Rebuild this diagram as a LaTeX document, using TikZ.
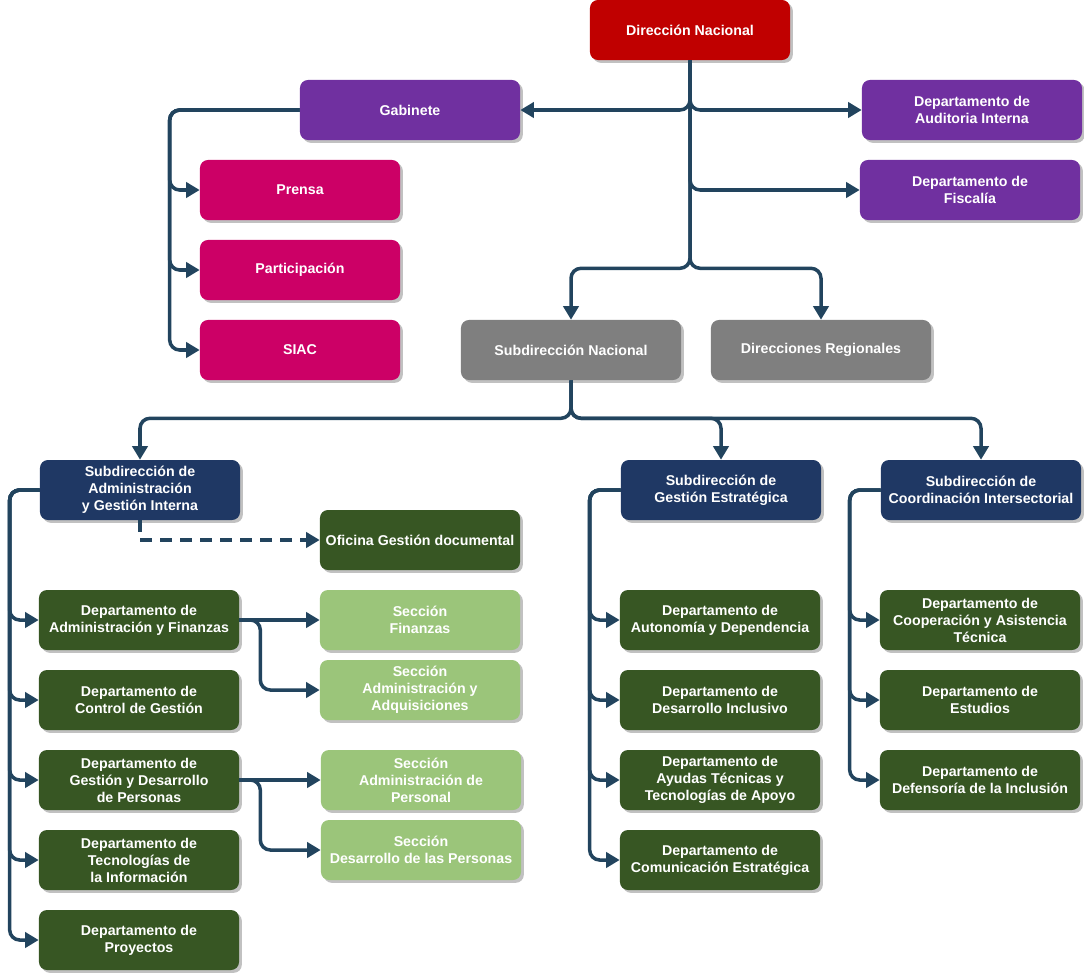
\documentclass[tikz,border=0pt]{standalone}
\usepackage{fontspec}
\setmainfont{Liberation Sans}
\usetikzlibrary{arrows.meta,shadows}
\definecolor{dnred}{HTML}{C00000}
\definecolor{purp}{HTML}{7030A0}
\definecolor{magent}{HTML}{CC0066}
\definecolor{greybox}{HTML}{7F7F7F}
\definecolor{navy}{HTML}{1F3864}
\definecolor{darkgreen}{HTML}{375623}
\definecolor{lightgreen}{HTML}{9BC57A}
\definecolor{linecol}{HTML}{22445E}
\tikzset{
  box/.style={rectangle, rounded corners=0.2cm, minimum width=5cm, minimum height=1.5cm,
    align=center, text=white, font=\fontsize{10.1}{12.1}\selectfont\bfseries,
    drop shadow={shadow xshift=0.07cm, shadow yshift=-0.07cm, fill=black!35, opacity=0.7}},
  widebox/.style={box, minimum width=5.5cm},
  con/.style={draw=linecol, line width=2.5pt, rounded corners=0.25cm,
    -{Triangle[length=0.34cm,width=0.38cm]}},
  dashcon/.style={con, sharp corners, dash pattern=on 0.3cm off 0.2cm},
}
\begin{document}
\begin{tikzpicture}[x=0.025cm,y=-0.025cm]
\useasboundingbox (0,0) rectangle (1084,974);
\node[widebox, fill=dnred, minimum width=5cm] (dn) at (690,30) {Dirección Nacional};
\node[widebox, fill=purp] (gab) at (410,110) {Gabinete};
\node[widebox, fill=purp] (aud) at (972,110) {Departamento de\\Auditoria Interna};
\node[widebox, fill=purp] (fis) at (970,190) {Departamento de\\Fiscalía};
\node[box, fill=magent] (pre) at (300,190) {Prensa};
\node[box, fill=magent] (par) at (300,270) {Participación};
\node[box, fill=magent] (siac) at (300,350) {SIAC};
\node[widebox, fill=greybox] (sn) at (571,350) {Subdirección Nacional};
\node[widebox, fill=greybox] (dr) at (821,350) {Direcciones Regionales};
\node[box, fill=navy] (sa) at (140,490) {Subdirección de\\Administración\\y Gestión Interna};
\node[box, fill=navy] (sge) at (721,490) {Subdirección de\\Gestión Estratégica};
\node[box, fill=navy] (sci) at (981,490) {Subdirección de\\Coordinación Intersectorial};
\node[box, fill=darkgreen] (ogd) at (420,540) {Oficina Gestión documental};
\node[box, fill=darkgreen] (daf) at (139,620) {Departamento de\\Administración y Finanzas};
\node[box, fill=lightgreen] (sfi) at (420,620) {Sección\\Finanzas};
\node[box, fill=lightgreen] (saa) at (420,690) {Sección\\Administración y\\Adquisiciones};
\node[box, fill=darkgreen] (dcg) at (139,700) {Departamento de\\Control de Gestión};
\node[box, fill=darkgreen] (gdp) at (139,780) {Departamento de\\Gestión y Desarrollo\\de Personas};
\node[box, fill=lightgreen] (sap) at (421,780) {Sección\\Administración de\\Personal};
\node[box, fill=lightgreen] (sdp) at (421,850) {Sección\\Desarrollo de las Personas};
\node[box, fill=darkgreen] (dti) at (139,860) {Departamento de\\Tecnologías de\\la Información};
\node[box, fill=darkgreen] (dpr) at (139,940) {Departamento de\\Proyectos};
\node[box, fill=darkgreen] (dad) at (720,620) {Departamento de\\Autonomía y Dependencia};
\node[box, fill=darkgreen] (ddi) at (720,700) {Departamento de\\Desarrollo Inclusivo};
\node[box, fill=darkgreen] (dat) at (720,780) {Departamento de\\Ayudas Técnicas y\\Tecnologías de Apoyo};
\node[box, fill=darkgreen] (dce) at (720,860) {Departamento de\\Comunicación Estratégica};
\node[box, fill=darkgreen] (dco) at (980,620) {Departamento de\\Cooperación y Asistencia\\Técnica};
\node[box, fill=darkgreen] (des) at (980,700) {Departamento de\\Estudios};
\node[box, fill=darkgreen] (ddf) at (980,780) {Departamento de\\Defensoría de la Inclusión};
\draw[con] (dn.south) |- (gab.east);
\draw[con] (dn.south) |- (aud.west);
\draw[con] (dn.south) |- (fis.west);
\draw[con] (dn.south) -- ++(0,208) -| (sn.north);
\draw[con] (dn.south) -- ++(0,208) -| (dr.north);
\draw[con] (gab.west) -- ++(-130,0) |- (pre.west);
\draw[con] (gab.west) -- ++(-130,0) |- (par.west);
\draw[con] (gab.west) -- ++(-130,0) |- (siac.west);
\draw[con] (sn.south) -- ++(0,38) -| (sa.north);
\draw[con] (sn.south) -- ++(0,38) -| (sge.north);
\draw[con] (sn.south) -- ++(0,38) -| (sci.north);
\draw[dashcon] (sa.south) |- (ogd.west);
\draw[con] (sa.west) -- ++(-30,0) |- (daf.west);
\draw[con] (sa.west) -- ++(-30,0) |- (dcg.west);
\draw[con] (sa.west) -- ++(-30,0) |- (gdp.west);
\draw[con] (sa.west) -- ++(-30,0) |- (dti.west);
\draw[con] (sa.west) -- ++(-30,0) |- (dpr.west);
\draw[con] (daf.east) -- (sfi.west);
\draw[con] (daf.east) -- ++(21,0) |- (saa.west);
\draw[con] (gdp.east) -- (sap.west);
\draw[con] (gdp.east) -- ++(21,0) |- (sdp.west);
\draw[con] (sge.west) -- ++(-31,0) |- (dad.west);
\draw[con] (sge.west) -- ++(-31,0) |- (ddi.west);
\draw[con] (sge.west) -- ++(-31,0) |- (dat.west);
\draw[con] (sge.west) -- ++(-31,0) |- (dce.west);
\draw[con] (sci.west) -- ++(-31,0) |- (dco.west);
\draw[con] (sci.west) -- ++(-31,0) |- (des.west);
\draw[con] (sci.west) -- ++(-31,0) |- (ddf.west);
\end{tikzpicture}
\end{document}
